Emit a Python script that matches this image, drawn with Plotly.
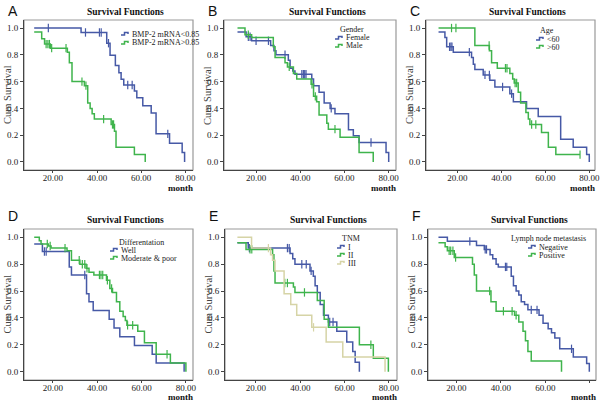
import plotly.graph_objects as go

W, H = 600, 401
BLUE = "#4659a6"
GREEN = "#3fb44c"
BEIGE = "#d6d4a6"
SERIF = "Liberation Serif"
SANS = "Liberation Sans"

# ---------------- data (months, cumulative survival) ----------------
# Panel A: BMP-2 mRNA
A1_t = [11.6, 32.8, 44.4, 45.9, 48.3, 49.9, 50.9, 52.1, 56.9, 58.0, 60.7, 64.5, 66.7, 72.8, 78.5, 79.6]
A1_s = [1.0, 0.967, 0.887, 0.797, 0.72, 0.667, 0.617, 0.575, 0.53, 0.48, 0.42, 0.365, 0.21, 0.14, 0.07, 0.0]
A1_c = [18.0, 34.8, 41.1, 41.9, 45.2, 53.9, 55.9, 72.0]
A2_t = [11.6, 15.0, 16.3, 18.9, 26.6, 27.5, 28.7, 34.3, 35.8, 36.9, 37.8, 38.8, 46.4, 47.9, 48.6, 56.9, 61.8]
A2_s = [0.97, 0.92, 0.88, 0.85, 0.82, 0.74, 0.60, 0.57, 0.44, 0.40, 0.36, 0.32, 0.28, 0.23, 0.11, 0.055, 0.0]
A2_c = [17.0, 17.8, 18.5, 19.5, 26.0, 33.2, 35.0, 43.0, 47.0, 47.5]
A_labels = ["BMP-2 mRNA<0.85", "BMP-2 mRNA>0.85"]

# Panel B: Gender
B1_t = [11.6, 15.5, 18.0, 26.6, 28.1, 29.0, 34.6, 35.4, 36.6, 37.6, 45.2, 46.0, 48.5, 50.8, 53.5, 55.7, 61.8, 64.0, 66.6, 78.8, 80.0]
B1_s = [0.97, 0.935, 0.905, 0.87, 0.83, 0.80, 0.76, 0.70, 0.68, 0.655, 0.62, 0.57, 0.52, 0.44, 0.40, 0.36, 0.24, 0.195, 0.145, 0.07, 0.0]
B1_c = [16.5, 17.3, 20.0, 25.6, 33.1, 40.7, 41.4, 42.0, 42.6, 54.0, 72.0]
B2_t = [11.6, 15.0, 18.0, 27.8, 28.6, 33.1, 34.2, 36.9, 38.4, 44.9, 46.0, 47.4, 48.5, 52.0, 52.7, 58.0, 66.6, 73.0]
B2_s = [1.0, 0.95, 0.93, 0.86, 0.78, 0.74, 0.71, 0.66, 0.62, 0.58, 0.49, 0.45, 0.35, 0.29, 0.245, 0.185, 0.07, 0.0]
B2_c = [16.5, 35.0, 45.3, 46.8, 55.7]
B_title = "Gender"
B_labels = ["Female", "Male"]

# Panel C: Age
C1_t = [11.5, 14.4, 15.2, 18.2, 26.5, 27.3, 28.0, 31.8, 34.8, 37.1, 43.9, 45.5, 51.5, 56.8, 67.0, 72.7, 78.8, 80.0]
C1_s = [0.97, 0.93, 0.86, 0.82, 0.78, 0.73, 0.69, 0.65, 0.61, 0.56, 0.51, 0.45, 0.40, 0.34, 0.17, 0.11, 0.055, 0.0]
C1_c = [16.5, 17.1, 17.6, 25.5, 32.6, 34.6, 40.6, 44.7]
C2_t = [11.5, 28.0, 34.6, 35.6, 38.2, 43.9, 45.2, 45.9, 47.7, 48.8, 51.2, 52.3, 53.0, 58.3, 61.4, 64.8, 75.8]
C2_s = [1.0, 0.87, 0.83, 0.74, 0.70, 0.66, 0.62, 0.59, 0.52, 0.44, 0.37, 0.32, 0.28, 0.22, 0.11, 0.055, 0.055]
C2_c = [17.4, 19.4, 34.5, 41.9, 42.6, 46.3, 47.0, 53.8, 55.7, 75.8]
C_title = "Age"
C_labels = ["<60", ">60"]

# Panel D: Differentation
D1_t = [11.6, 15.3, 27.4, 28.4, 35.2, 36.3, 38.2, 45.4, 47.6, 50.2, 56.8, 64.8, 66.6, 79.2]
D1_s = [0.95, 0.895, 0.78, 0.72, 0.58, 0.52, 0.455, 0.39, 0.325, 0.26, 0.195, 0.13, 0.065, 0.0]
D1_c = [16.2, 17.0, 34.4]
D2_t = [11.6, 13.9, 14.7, 18.0, 19.2, 26.4, 28.4, 32.2, 35.0, 36.3, 38.5, 44.2, 45.7, 46.9, 48.7, 50.2, 51.7, 52.7, 53.4, 58.3, 61.3, 66.6, 73.0, 80.0]
D2_s = [1.0, 0.975, 0.95, 0.935, 0.92, 0.90, 0.83, 0.80, 0.77, 0.74, 0.72, 0.68, 0.62, 0.59, 0.52, 0.45, 0.41, 0.38, 0.345, 0.30, 0.215, 0.13, 0.065, 0.0]
D2_c = [17.5, 18.8, 25.5, 31.9, 33.3, 34.4, 35.4, 41.0, 41.7, 42.5, 44.6, 46.5, 53.7, 56.0, 71.5]
D_title = "Differentation"
D_labels = ["Well", "Moderate & poor"]

# Panel E: TNM
E1_t = [11.6, 16.5, 35.4, 36.6, 37.6, 44.4, 45.9, 46.7, 47.7, 49.0, 50.5, 52.7, 56.5, 61.0, 63.7, 64.8, 66.7]
E1_s = [0.96, 0.92, 0.88, 0.84, 0.80, 0.75, 0.71, 0.64, 0.59, 0.50, 0.42, 0.37, 0.30, 0.22, 0.15, 0.07, 0.0]
E1_c = [17.0, 34.2, 35.0, 40.7, 42.7, 44.9, 53.3, 54.8]
E2_t = [11.6, 15.5, 27.5, 28.1, 28.6, 36.9, 37.6, 47.7, 50.8, 52.7, 66.7, 73.0, 79.8]
E2_s = [0.96, 0.91, 0.87, 0.75, 0.66, 0.63, 0.59, 0.53, 0.39, 0.33, 0.20, 0.10, 0.0]
E2_c = [17.3, 18.1, 33.0, 34.2, 41.9, 71.9]
E3_t = [11.6, 18.0, 26.6, 27.5, 28.6, 32.7, 35.7, 38.4, 45.2, 51.7, 59.2, 78.3]
E3_s = [1.0, 0.92, 0.87, 0.83, 0.75, 0.58, 0.50, 0.42, 0.33, 0.22, 0.11, 0.0]
E3_c = [25.6, 46.0]
E_title = "TNM"
E_labels = ["I", "II", "III"]

# Panel F: Lymph node metastasis
F1_t = [11.9, 15.9, 29.0, 32.5, 35.1, 36.3, 37.8, 38.8, 44.6, 45.6, 46.8, 48.0, 49.1, 50.6, 52.1, 57.1, 58.9, 61.2, 62.7, 64.2, 66.4, 72.5, 78.5, 79.7]
F1_s = [1.0, 0.97, 0.94, 0.91, 0.87, 0.84, 0.80, 0.78, 0.71, 0.64, 0.60, 0.57, 0.52, 0.50, 0.46, 0.42, 0.36, 0.32, 0.29, 0.25, 0.17, 0.11, 0.06, 0.0]
F1_c = [26.0, 32.9, 33.5, 42.0, 42.6, 53.6, 56.2, 71.7]
F2_t = [11.9, 14.9, 15.9, 19.0, 27.2, 28.0, 29.0, 35.5, 37.8, 46.1, 48.0, 49.9, 51.0, 52.1, 53.6, 67.2]
F2_s = [0.96, 0.93, 0.90, 0.85, 0.80, 0.72, 0.60, 0.52, 0.45, 0.42, 0.37, 0.30, 0.23, 0.15, 0.08, 0.0]
F2_c = [16.7, 17.4, 18.4, 19.6, 34.9, 41.1, 45.0, 46.8]
F_title = "Lymph node metastasis"
F_labels = ["Negative", "Positive"]

x_ticks = [20, 40, 60, 80]
y_ticks = [0.0, 0.2, 0.4, 0.6, 0.8, 1.0]


def px(x):
    return x / W


def py(y):
    return 1 - y / H


def step_at(t, s, tc):
    v = s[0]
    for ti, si in zip(t, s):
        if ti <= tc:
            v = si
    return v


panels = [
    dict(letter="A", box=(24, 193, 20, 170), xr=(7.0, 83.4),
         curves=[(A1_t, A1_s, A1_c, BLUE), (A2_t, A2_s, A2_c, GREEN)],
         ltitle=None, ltx=None, labels=A_labels, lx=121, ly=[34, 43], lty=None),
    dict(letter="B", box=(224, 396, 20, 170), xr=(5.5, 83.3),
         curves=[(B1_t, B1_s, B1_c, BLUE), (B2_t, B2_s, B2_c, GREEN)],
         ltitle=B_title, ltx=338, labels=B_labels, lx=335, ly=[38, 46], lty=29),
    dict(letter="C", box=(426, 595, 20, 170), xr=(5.8, 82.6),
         curves=[(C1_t, C1_s, C1_c, BLUE), (C2_t, C2_s, C2_c, GREEN)],
         ltitle=C_title, ltx=538, labels=C_labels, lx=536, ly=[39, 47], lty=31),
    dict(letter="D", box=(24, 193, 229, 380), xr=(7.0, 83.2),
         curves=[(D1_t, D1_s, D1_c, BLUE), (D2_t, D2_s, D2_c, GREEN)],
         ltitle=D_title, ltx=117, labels=D_labels, lx=110, ly=[250, 258], lty=242),
    dict(letter="E", box=(225, 397, 229, 380), xr=(6.0, 83.7),
         curves=[(E1_t, E1_s, E1_c, BLUE), (E2_t, E2_s, E2_c, GREEN), (E3_t, E3_s, E3_c, BEIGE)],
         ltitle=E_title, ltx=340, labels=E_labels, lx=337, ly=[247, 255, 263], lty=238),
    dict(letter="F", box=(428, 596, 229, 380), xr=(7.2, 82.7),
         curves=[(F1_t, F1_s, F1_c, BLUE), (F2_t, F2_s, F2_c, GREEN)],
         ltitle=F_title, ltx=509, labels=F_labels, lx=528, ly=[247, 255], lty=239),
]

fig = go.Figure()
annotations = []
shapes = []
layout = {}

for i, p in enumerate(panels):
    sfx = "" if i == 0 else str(i + 1)
    xa, ya = "x" + sfx, "y" + sfx
    x0, x1, y0, y1 = p["box"]
    top_row = y0 < 200
    yr = (-0.06, 1.06) if top_row else (-0.062, 1.062)

    layout["xaxis" + sfx] = dict(
        domain=[px(x0), px(x1)], range=list(p["xr"]), anchor=ya,
        tickvals=x_ticks, tickformat=".2f", ticks="outside", ticklen=2,
        tickcolor="#444", showline=True, linecolor="#444", linewidth=1,
        showgrid=False, zeroline=False, ticklabelstandoff=-3,
        tickfont=dict(family=SERIF, size=9, color="#222"),
    )
    layout["yaxis" + sfx] = dict(
        domain=[py(y1), py(y0)], range=list(yr), anchor=xa,
        tickvals=y_ticks, tickformat=".1f", ticks="outside", ticklen=3,
        tickcolor="#444", showline=True, linecolor="#444", linewidth=1,
        showgrid=False, zeroline=False,
        tickfont=dict(family=SERIF, size=9, color="#222"),
    )
    # frame top/right
    shapes.append(dict(type="rect", xref=xa + " domain", yref=ya + " domain",
                       x0=0, x1=1, y0=0, y1=1, line=dict(color="#999999", width=1.2),
                       layer="below"))

    for (t, s, c, col) in p["curves"]:
        fig.add_trace(go.Scatter(x=t, y=s, mode="lines", line_shape="hv",
                                 line=dict(color=col, width=1.5),
                                 xaxis=xa, yaxis=ya, showlegend=False, hoverinfo="skip"))
        fig.add_trace(go.Scatter(x=c, y=[step_at(t, s, v) for v in c], mode="markers",
                                 marker=dict(symbol="line-ns", size=6,
                                             line=dict(color=col, width=1.2)),
                                 xaxis=xa, yaxis=ya, showlegend=False, hoverinfo="skip"))

    # title
    cx = (x0 + x1) / 2 + 17
    ty = 12 if top_row else 220
    annotations.append(dict(x=px(cx), y=py(ty), xref="paper", yref="paper",
                            text="<b>Survival Functions</b>", showarrow=False,
                            xanchor="center", yanchor="middle",
                            font=dict(family=SERIF, size=9.5, color="#111")))
    # panel letter
    annotations.append(dict(x=px(x0 - 18), y=py(11 if top_row else 216), xref="paper", yref="paper",
                            text=p["letter"], showarrow=False, xanchor="left", yanchor="middle",
                            font=dict(family=SANS, size=14, color="#111")))
    # y title
    annotations.append(dict(x=px(x0 - 17), y=py((y0 + y1) / 2), xref="paper", yref="paper",
                            text="Cum Survival", textangle=-90, showarrow=False,
                            xanchor="center", yanchor="middle",
                            font=dict(family=SERIF, size=10.5, color="#444")))
    # x title
    annotations.append(dict(x=px(x1 + 2), y=py(y1 + (18 if top_row else 17)), xref="paper", yref="paper",
                            text="<b>month</b>", showarrow=False, xanchor="right", yanchor="middle",
                            font=dict(family=SERIF, size=9, color="#111")))
    # legend
    lx = p["lx"]
    if p["ltitle"]:
        annotations.append(dict(x=px(p["ltx"]), y=py(p["lty"]), xref="paper", yref="paper",
                                text=p["ltitle"], showarrow=False, xanchor="left", yanchor="middle",
                                font=dict(family=SERIF, size=8, color="#222")))
    for (t, s, c, col), lab, yy in zip(p["curves"], p["labels"], p["ly"]):
        path = "M {} {} L {} {} L {} {} L {} {} L {} {}".format(
            px(lx), py(yy + 1), px(lx + 3.5), py(yy + 1), px(lx + 3.5), py(yy - 1.5),
            px(lx + 7), py(yy - 1.5), px(lx + 7), py(yy))
        shapes.append(dict(type="path", xref="paper", yref="paper", path=path,
                           line=dict(color=col, width=1.5)))
        annotations.append(dict(x=px(lx + 9), y=py(yy), xref="paper", yref="paper",
                                text=lab, showarrow=False, xanchor="left", yanchor="middle",
                                font=dict(family=SERIF, size=8, color="#222")))

fig.update_layout(
    width=W, height=H, margin=dict(l=0, r=0, t=0, b=0, autoexpand=False),
    paper_bgcolor="white", plot_bgcolor="white",
    showlegend=False, annotations=annotations, shapes=shapes, **layout,
)

fig.write_html("out.html", config={"displayModeBar": False},
               post_script="document.body.style.margin='0';document.body.style.overflow='hidden';")
